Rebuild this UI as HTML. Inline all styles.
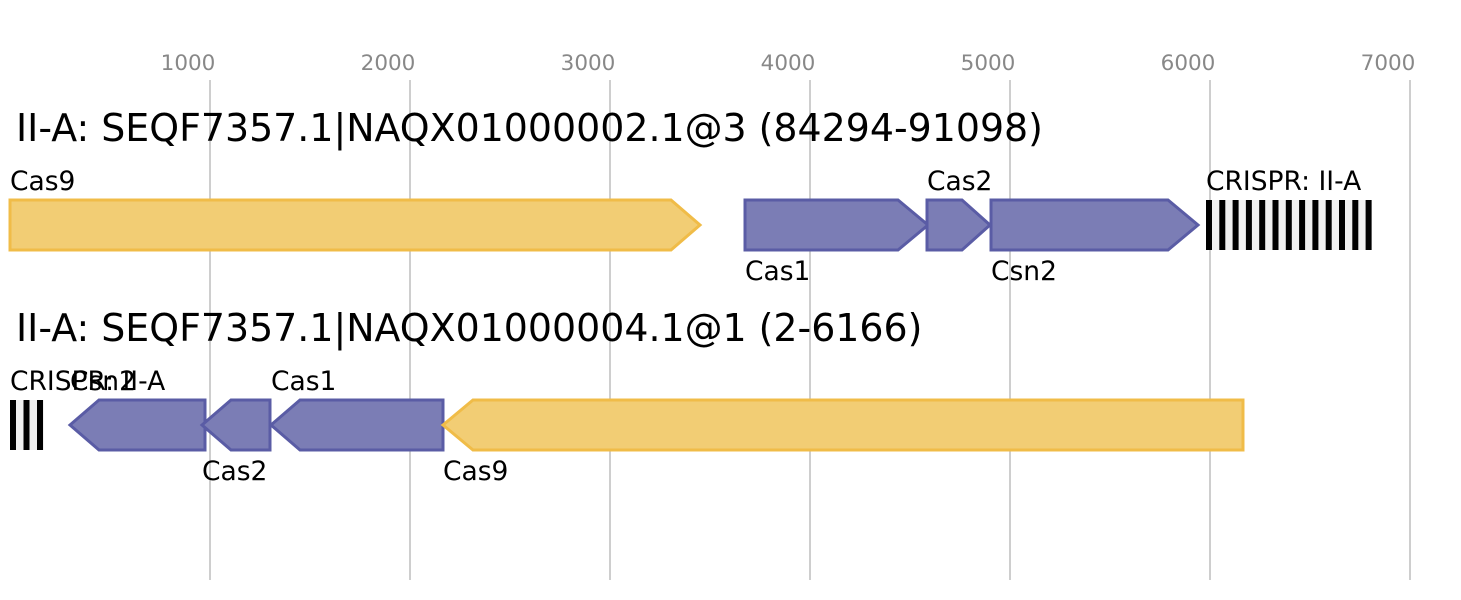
<!DOCTYPE html>
<html><head><meta charset="utf-8"><style>html,body{margin:0;padding:0;background:#fff}svg{display:block}text{font-family:"DejaVu Sans","Liberation Sans",sans-serif}</style></head>
<body>
<svg width="1461" height="600" viewBox="0 0 1461 600">
<g stroke="#bdbdbd" stroke-width="1.5">
<line x1="210" y1="80" x2="210" y2="580"/><line x1="410" y1="80" x2="410" y2="580"/><line x1="610" y1="80" x2="610" y2="580"/><line x1="810" y1="80" x2="810" y2="580"/><line x1="1010" y1="80" x2="1010" y2="580"/><line x1="1210" y1="80" x2="1210" y2="580"/><line x1="1410" y1="80" x2="1410" y2="580"/>
</g>
<g fill="#888" font-size="21.5" text-anchor="middle">
<text x="188" y="70">1000</text><text x="388" y="70">2000</text><text x="588" y="70">3000</text><text x="788" y="70">4000</text><text x="988" y="70">5000</text><text x="1188" y="70">6000</text><text x="1388" y="70">7000</text>
</g>
<text x="16" y="141" font-size="37.9">II-A: SEQF7357.1|NAQX01000002.1@3 (84294-91098)</text>
<text x="16" y="341" font-size="37.9">II-A: SEQF7357.1|NAQX01000004.1@1 (2-6166)</text>
<g stroke-width="3" stroke-linejoin="miter">
<polygon points="10,200 671,200 700,225 671,250 10,250" fill="#f2cd74" stroke="#f0bc48"/>
<polygon points="745,200 898,200 928,225 898,250 745,250" fill="#7b7db5" stroke="#5a5ca5"/>
<polygon points="927,200 962,200 990,225 962,250 927,250" fill="#7b7db5" stroke="#5a5ca5"/>
<polygon points="991,200 1168,200 1198,225 1168,250 991,250" fill="#7b7db5" stroke="#5a5ca5"/>
<polygon points="70,425 99,400 205,400 205,450 99,450" fill="#7b7db5" stroke="#5a5ca5"/>
<polygon points="202,425 231,400 270,400 270,450 231,450" fill="#7b7db5" stroke="#5a5ca5"/>
<polygon points="271,425 300,400 443,400 443,450 300,450" fill="#7b7db5" stroke="#5a5ca5"/>
<polygon points="443,425 473,400 1243,400 1243,450 473,450" fill="#f2cd74" stroke="#f0bc48"/>
</g>
<rect x="1206" y="200" width="166" height="50" fill="#f0f0f0"/>
<g fill="#000">
<rect x="1206" y="200" width="6" height="50"/><rect x="1219.3" y="200" width="6" height="50"/><rect x="1232.6" y="200" width="6" height="50"/><rect x="1245.9" y="200" width="6" height="50"/><rect x="1259.2" y="200" width="6" height="50"/><rect x="1272.5" y="200" width="6" height="50"/><rect x="1285.8" y="200" width="6" height="50"/><rect x="1299.1" y="200" width="6" height="50"/><rect x="1312.4" y="200" width="6" height="50"/><rect x="1325.7" y="200" width="6" height="50"/><rect x="1339" y="200" width="6" height="50"/><rect x="1352.3" y="200" width="6" height="50"/><rect x="1365.6" y="200" width="6" height="50"/>
</g>
<rect x="10" y="400" width="34" height="50" fill="#f0f0f0"/>
<g fill="#000"><rect x="10" y="400" width="6" height="50"/><rect x="23.5" y="400" width="6" height="50"/><rect x="37" y="400" width="6" height="50"/></g>
<g font-size="26.5" fill="#000">
<text x="10" y="190">Cas9</text><text x="745" y="280">Cas1</text><text x="927" y="190">Cas2</text><text x="991" y="280">Csn2</text><text x="1206" y="190">CRISPR: II-A</text>
<text x="10" y="390">CRISPR: II-A</text><text x="70" y="390">Csn2</text><text x="202" y="480">Cas2</text><text x="271" y="390">Cas1</text><text x="443" y="480">Cas9</text>
</g>
</svg>
</body></html>
